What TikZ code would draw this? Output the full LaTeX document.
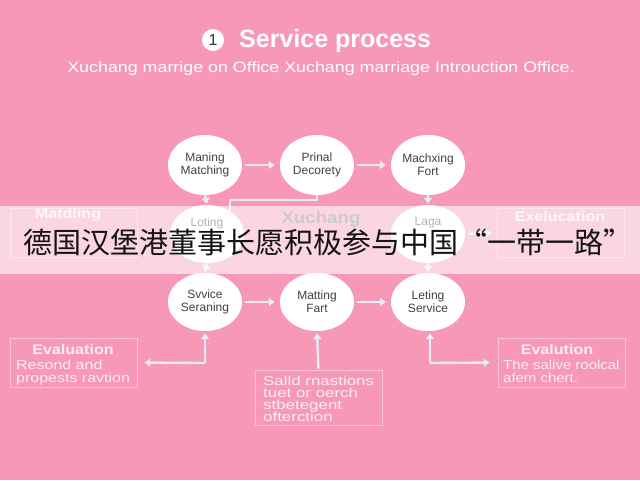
\documentclass[tikz,border=0pt]{standalone}
\usepackage{fontspec}
\setmainfont{Liberation Sans}
\newfontfamily\cjk{Noto Sans CJK SC}
\usetikzlibrary{shapes.geometric,arrows.meta}
\definecolor{bgpink}{RGB}{246,152,182}
\definecolor{arrc}{RGB}{228,236,246}
\definecolor{elltxt}{RGB}{65,65,65}
\definecolor{boxtxt}{RGB}{252,238,243}
\begin{document}
\begin{tikzpicture}[x=1pt,y=-1pt,
 ell/.style={ellipse, fill=white, minimum width=74pt, minimum height=60pt, inner sep=0pt, align=center, text=elltxt, font=\fontsize{12}{13}\selectfont},
 arr/.style={draw=arrc, line width=2.4pt, -{Triangle[width=8pt,length=6pt]}},
 lnk/.style={draw=arrc, line width=2.4pt},
 frame/.style={draw=white, draw opacity=0.45, line width=0.8pt, minimum width=127pt, minimum height=49pt, inner sep=0pt},
 btxt/.style={text=boxtxt, font=\fontsize{13}{11.5}\selectfont, align=left, inner sep=0pt, anchor=north west},
 bhead/.style={text=boxtxt, font=\bfseries\fontsize{14}{14}\selectfont, inner sep=0pt}]
\fill[bgpink] (0,0) rectangle (640,480);
\useasboundingbox (0,0) rectangle (640,480);

% title
\node[circle, fill=white, minimum size=22pt, inner sep=0pt, text=black!80, font=\fontsize{16}{16}\selectfont] (num) at (213,40) {1};
\node[anchor=west, text=white, font=\bfseries\fontsize{25}{25}\selectfont, inner sep=0pt] (title) at (239,41) {Service process};
\node[text=white, font=\fontsize{15}{15}\selectfont, inner sep=0pt] (sub) at (321,69) {\scalebox{1.19}[1]{Xuchang marrige on Office Xuchang marriage Introuction Office.}};

% row 1
\node[ell] (a1) at (205,165) {Maning\\Matching};
\node[ell] (a2) at (317,165) {Prinal\\Decorety};
\node[ell] (a3) at (428,165) {Machxing\\Fort};
% row 2 (under band)
\node[ell, minimum height=58pt] (b1) at (207,234) {};
\node[ell, minimum height=58pt] (b3) at (428,234) {};
\node[text=elltxt, font=\fontsize{12}{13}\selectfont, inner sep=0pt] (b1t) at (207,223) {Loting};
\node[text=elltxt, font=\fontsize{12}{13}\selectfont, inner sep=0pt] (b3t) at (428,223) {Laga};
\node[frame] (lboxb) at (73.5,232.5) {};
\node[frame] (rboxb) at (560.5,232.5) {};
\node[bhead] (lbh) at (68,215) {\scalebox{1.15}[1]{Matdling}};
\node[bhead] (rbh) at (560,216) {\scalebox{1.15}[1]{Exelucation}};
\node[text=black!50, font=\bfseries\fontsize{17}{17}\selectfont, inner sep=0pt] (xu) at (321,219) {\scalebox{1.1}[1]{Xuchang}};
% row 3
\node[ell, minimum height=58pt] (c1) at (205,302) {Svvice\\Seraning};
\node[ell, minimum height=58pt] (c2) at (317,302) {Matting\\Fart};
\node[ell, minimum height=58pt] (c3) at (428,302) {Leting\\Service};

% connectors row 1
\draw[arr, shorten <=3pt, shorten >=5pt] (a1) -- (a2);
\draw[arr, shorten <=3pt, shorten >=5pt] (a2) -- (a3);
\draw[arr, shorten >=1pt] (a1.south) -- (b1.north);
\draw[arr, shorten >=1pt] (a3.south) -- (b3.north);
\coordinate (k) at (230,214);
\draw[lnk] (a2.south) -- ++(0,5) -| (k);
% row 2
\draw[arr, shorten >=1pt] (b1.south) -- (c1.north);
\draw[arr, shorten >=1pt] (b3.south) -- (c3.north);
\draw[arr, shorten <=4pt, shorten >=5pt] (b3.east) -- (rboxb.west);

% band overlay
\fill[white, opacity=0.6] (0,206) rectangle (640,274);
\node[text=black!92, font=\cjk\fontsize{29}{29}\selectfont, inner sep=0pt] (cn) at (328,242) {德国汉堡港董事长愿积极参与中国“一带一路”};

% row 3 connectors
\draw[arr, shorten <=3pt, shorten >=5pt] (c1) -- (c2);
\draw[arr, shorten <=3pt, shorten >=5pt] (c2) -- (c3);

% bottom boxes
\node[frame] (lbox) at (73.5,362.5) {};
\node[frame] (rbox) at (561.5,362.5) {};
\node[frame, minimum height=55pt] (mbox) at (318.5,397.5) {};
\node[bhead] (lh) at (73,349) {\scalebox{1.15}[1]{Evaluation}};
\node[btxt] (lt) at (16,360) {\scalebox{1.23}[1]{\renewcommand\arraystretch{0.9}\begin{tabular}{@{}l@{}}Resond and\\propests ravtion\end{tabular}}};
\node[bhead] (rh) at (557,349) {\scalebox{1.15}[1]{Evalution}};
\node[btxt] (rt) at (503,360) {\scalebox{1.15}[1]{\renewcommand\arraystretch{0.9}\begin{tabular}{@{}l@{}}The salive roolcal\\afem chert.\end{tabular}}};
\node[btxt] (mt) at (263,376) {\scalebox{1.3}[1]{\renewcommand\arraystretch{0.74}\begin{tabular}{@{}l@{}}Salld rnastions\\tuet or oerch\\stbetegent\\ofterction\end{tabular}}};

% bottom connectors
\coordinate (lc) at (205,363);
\coordinate (rc) at (430,363);
\draw[arr, shorten >=2pt] (lc) -- (c1.south);
\draw[arr, shorten >=7pt] (lc) -- (lbox.east);
\draw[arr, shorten <=1pt, shorten >=2pt] (mbox.north) -- (c2.south);
\draw[arr, shorten >=2pt] (rc) -- (c3.south -| rc);
\draw[arr, shorten >=8pt] (rc) -- (rbox.west);
\end{tikzpicture}
\end{document}
